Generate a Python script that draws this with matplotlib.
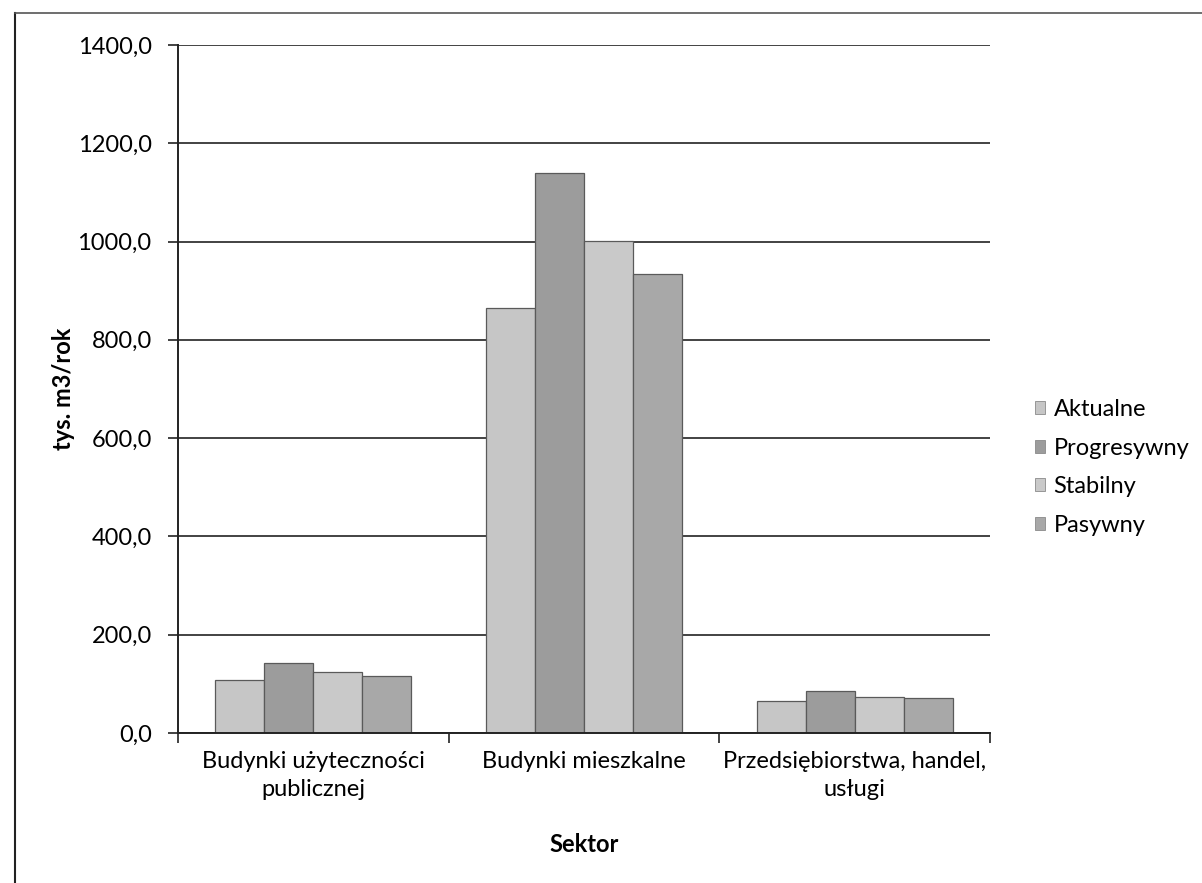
import numpy as np
import matplotlib.pyplot as plt
from matplotlib.lines import Line2D
from matplotlib.patches import Patch
from matplotlib.ticker import FuncFormatter, FixedLocator

plt.rcParams['font.family'] = ['Lato', 'DejaVu Sans']

sectors = ["Budynki użyteczności\npublicznej", "Budynki mieszkalne",
           "Przedsiębiorstwa, handel,\nusługi"]
scenarios = ["Aktualne", "Progresywny", "Stabilny", "Pasywny"]
aktualne = [107.4, 865.0, 64.8]
progresywny = [142.8, 1139.0, 85.1]
stabilny = [123.9, 1001.0, 72.9]
pasywny = [116.6, 934.0, 70.2]
series = [aktualne, progresywny, stabilny, pasywny]
colors = ["#c6c6c6", "#9c9c9c", "#c9c9c9", "#a8a8a8"]

fig = plt.figure(figsize=(12.02, 8.83), dpi=100)
ax = fig.add_axes([0.1481, 0.1699, 0.6755, 0.7792])

x = np.arange(len(sectors))
w = 0.181
for i, (vals, c) in enumerate(zip(series, colors)):
    ax.bar(x + (i - 1.5) * w, vals, width=w, color=c, edgecolor="#5a5a5a",
           linewidth=0.9, label=scenarios[i], zorder=2)

ax.set_xlim(-0.5, 2.5)
ax.set_ylim(0, 1400)
ax.set_yticks(np.arange(0, 1401, 200))
ax.yaxis.set_major_formatter(FuncFormatter(lambda v, p: f"{v:.1f}".replace(".", ",")))
ax.grid(axis="y", color="#222222", linewidth=1.2, zorder=0)
ax.set_axisbelow(True)

ax.set_xticks(x)
ax.set_xticklabels(sectors, fontsize=17, linespacing=1.4)
ax.xaxis.set_minor_locator(FixedLocator([-0.5, 0.5, 1.5, 2.5]))
ax.tick_params(axis="x", which="major", length=0, pad=13)
ax.tick_params(axis="x", which="minor", length=7, width=1.2, color="#222222", direction="out")
ax.tick_params(axis="y", labelsize=17, length=7, width=1.2, color="#222222", pad=12)

for s in ["top", "right"]:
    ax.spines[s].set_visible(False)
ax.spines["left"].set_color("#222222")
ax.spines["left"].set_linewidth(1.4)
ax.spines["bottom"].set_color("#222222")
ax.spines["bottom"].set_linewidth(1.4)

ax.set_xlabel("Sektor", fontsize=17, fontweight="bold", labelpad=24)
ax.set_ylabel("tys. m3/rok", fontsize=17, fontweight="bold", labelpad=2)

handles = [Patch(facecolor=c, edgecolor="#8a8a8a", linewidth=0.6) for c in colors]
fig.legend(handles, scenarios, loc="upper left", bbox_to_anchor=(0.843, 0.572),
           frameon=False, fontsize=17, handlelength=0.45, handleheight=0.45,
           handletextpad=0.35, labelspacing=0.74)

# frame around the chart area
fig.add_artist(Line2D([15 / 1202, 15 / 1202], [0, 1 - 13 / 883], color="#222222", linewidth=1.5))
fig.add_artist(Line2D([15 / 1202, 1], [1 - 13 / 883, 1 - 13 / 883], color="#555555", linewidth=1.2))

fig.savefig("out.png", dpi=100)
